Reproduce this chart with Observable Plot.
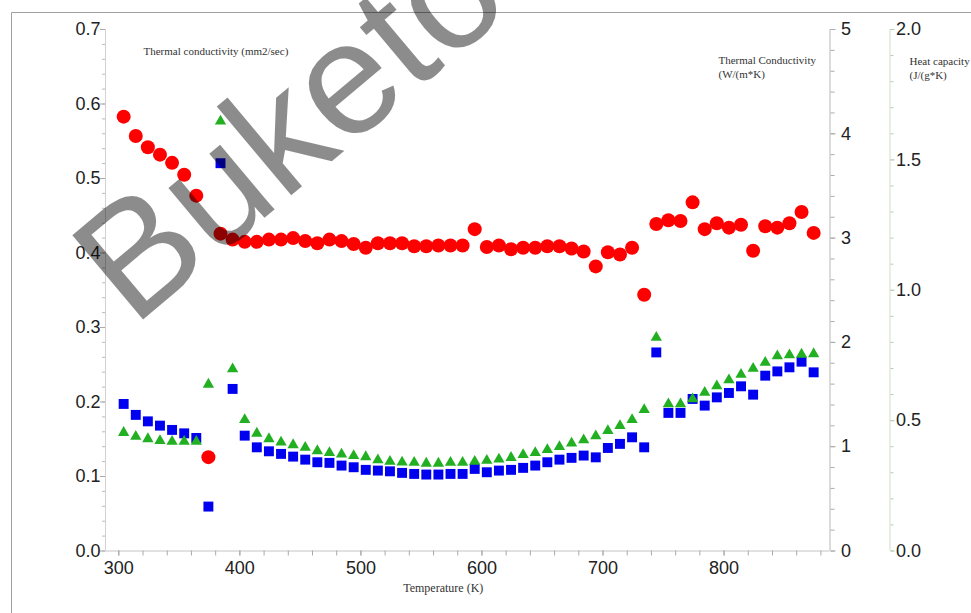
<!DOCTYPE html>
<html><head><meta charset="utf-8">
<script src="https://cdn.jsdelivr.net/npm/d3@7"></script>
<script src="https://cdn.jsdelivr.net/npm/@observablehq/plot@0.6"></script>
<style>html,body{margin:0;padding:0;background:#fff;} #chart{position:relative;width:971px;height:613px;overflow:hidden;}</style>
</head><body><div id="chart"></div>
<script>
// Temperature (K)
const temperature = [304,314,324,334,344,354,364,374,384,394,404,414,424,434,444,454,464,474,484,494,504,514,524,534,544,554,564,574,584,594,604,614,624,634,644,654,664,674,684,694,704,714,724,734,744,754,764,774,784,794,804,814,824,834,844,854,864,874];
// Thermal diffusivity, mm2/sec (left axis) - red circles
const diffusivity = [0.583,0.557,0.542,0.532,0.521,0.505,0.477,0.126,0.426,0.418,0.415,0.415,0.418,0.418,0.420,0.416,0.413,0.418,0.416,0.412,0.407,0.413,0.413,0.413,0.409,0.409,0.410,0.410,0.410,0.432,0.408,0.410,0.405,0.407,0.407,0.409,0.409,0.406,0.402,0.382,0.401,0.398,0.407,0.344,0.439,0.444,0.443,0.468,0.432,0.440,0.434,0.438,0.403,0.436,0.434,0.440,0.455,0.427];
// Thermal conductivity, W/(m*K) (first right axis) - blue squares
const conductivity = [1.41,1.305,1.243,1.202,1.161,1.128,1.084,0.426,3.718,1.554,1.106,0.994,0.956,0.931,0.905,0.876,0.851,0.845,0.819,0.803,0.778,0.771,0.764,0.749,0.739,0.733,0.733,0.739,0.739,0.787,0.755,0.771,0.778,0.797,0.819,0.851,0.876,0.893,0.915,0.898,0.988,1.027,1.09,0.994,1.904,1.324,1.324,1.458,1.394,1.473,1.515,1.579,1.499,1.681,1.722,1.761,1.815,1.713];
// Heat capacity, J/(g*K) (second right axis) - green triangles
const heatCapacity = [0.454,0.439,0.430,0.423,0.420,0.420,0.420,0.639,1.648,0.698,0.503,0.451,0.430,0.417,0.407,0.397,0.384,0.377,0.371,0.365,0.361,0.349,0.343,0.340,0.339,0.336,0.336,0.339,0.339,0.343,0.347,0.352,0.358,0.369,0.377,0.388,0.400,0.413,0.426,0.441,0.461,0.480,0.503,0.542,0.819,0.564,0.564,0.583,0.608,0.633,0.656,0.677,0.700,0.723,0.748,0.752,0.754,0.756];

const xTicks = [300,400,500,600,700,800];
const leftTicks = [0,0.1,0.2,0.3,0.4,0.5,0.6,0.7];
const condTicks = [0,1,2,3,4,5];
const cpTicks = [0,0.5,1.0,1.5,2.0];

const leftTitle = "Thermal conductivity (mm2/sec)";
const condTitle = ["Thermal Conductivity", "(W/(m*K)"];
const cpTitle = ["Heat capacity", "(J/(g*K)"];
const xTitle = "Temperature (K)";
const watermark = "Buketov";

const Y_MAX = 0.7, COND_MAX = 5, CP_MAX = 2;
const kCond = Y_MAX / COND_MAX, kCp = Y_MAX / CP_MAX;
const X_MIN = 289, X_MAX = 887.5;

const rows = temperature.map((t, i) => ({t, dif: diffusivity[i], cond: conductivity[i] * kCond, cp: heatCapacity[i] * kCp}));

const sans = "'Liberation Sans', Arial, sans-serif";
const serif = "'Liberation Serif', 'Times New Roman', serif";

const chart = Plot.plot({
  width: 971, height: 613,
  marginLeft: 105, marginRight: 141.5, marginTop: 29, marginBottom: 62.5,
  x: {domain: [X_MIN, X_MAX]},
  y: {domain: [0, Y_MAX]},
  style: {fontFamily: sans, fontSize: "18px", color: "#222", background: "#fff", overflow: "visible"},
  marks: [
    // axis lines
    Plot.ruleY([0], {stroke: "#c4c4c4"}),
    Plot.ruleX([X_MIN], {stroke: "#d8cfcf"}),
    Plot.ruleX([X_MAX], {stroke: "#b8b8b8"}),
    Plot.ruleX([X_MAX], {stroke: "#cde0c6", dx: 60}),
    // bottom axis
    Plot.axisX(d3.range(300, 881, 20), {tickSize: 5, tickFormat: () => "", stroke: "#aaa", label: null}),
    Plot.axisX(xTicks, {tickSize: 5, tickPadding: 5, tickFormat: d => String(d), stroke: "#aaa", fill: "#222", fontSize: 18, label: null}),
    // left axis
    Plot.axisY(d3.range(0, 35).map(i => i * 0.02).concat([0.7]), {anchor: "left", tickSize: 3, tickFormat: () => "", stroke: "#bbb", label: null}),
    Plot.axisY(leftTicks, {anchor: "left", tickSize: 5, tickPadding: 0, tickFormat: d3.format(".1f"), stroke: "#aaa", fill: "#222", fontSize: 18, label: null}),
    // conductivity axis (right)
    Plot.axisY(d3.range(0, 26).map(i => i * 0.2 * kCond), {anchor: "right", tickSize: 4, tickFormat: () => "", stroke: "#aaa", label: null}),
    Plot.axisY(condTicks.map(v => v * kCond), {anchor: "right", tickSize: 5, tickPadding: 6, tickFormat: d => String(Math.round(d / kCond)), stroke: "#aaa", fill: "#222", fontSize: 18, label: null}),
    // heat capacity axis (far right)
    Plot.axisY(d3.range(0, 21).map(i => i * 0.1 * kCp), {anchor: "right", dx: 60, tickSize: 3, tickFormat: () => "", stroke: "#b5cdb0", label: null}),
    Plot.axisY(cpTicks.map(v => v * kCp), {anchor: "right", dx: 60, tickSize: 4, tickPadding: 2, tickFormat: d => (d / kCp).toFixed(1), stroke: "#b5cdb0", fill: "#222", fontSize: 18, label: null}),
    // data
    Plot.dot(rows, {x: "t", y: "cond", symbol: "square", r: 5.6, fill: "#0000f0", stroke: "none"}),
    Plot.dot(rows, {x: "t", y: "cp", symbol: "triangle", r: 4.2, fill: "#22b022", stroke: "none"}),
    Plot.dot(rows, {x: "t", y: "dif", symbol: "circle", r: 7, fill: "#ff0000", stroke: "none"}),
    // titles
    Plot.text([leftTitle], {text: d => d, frameAnchor: "top-left", dx: 38, dy: 18, textAnchor: "start", fontFamily: serif, fontSize: 11, fill: "#333"}),
    Plot.text([condTitle[0]], {text: d => d, frameAnchor: "top-left", dx: 613, dy: 27, textAnchor: "start", fontFamily: serif, fontSize: 11, fill: "#333"}),
    Plot.text([condTitle[1]], {text: d => d, frameAnchor: "top-left", dx: 613, dy: 41, textAnchor: "start", fontFamily: serif, fontSize: 11, fill: "#333"}),
    Plot.text([cpTitle[0]], {text: d => d, frameAnchor: "top-left", dx: 804, dy: 28, textAnchor: "start", fontFamily: serif, fontSize: 11, fill: "#333"}),
    Plot.text([cpTitle[1]], {text: d => d, frameAnchor: "top-left", dx: 804, dy: 42, textAnchor: "start", fontFamily: serif, fontSize: 11, fill: "#333"}),
    Plot.text([xTitle], {text: d => d, frameAnchor: "bottom", dx: -24.5, dy: 41, fontFamily: serif, fontSize: 12, fill: "#333"})
  ]
});

const svg = d3.select(chart);
// outer frame of the figure
svg.append("path").attr("d", "M11.5,613V12.5H971").attr("stroke", "#a0a0a0").attr("fill", "none");
// watermark
svg.append("text").text(watermark)
  .attr("transform", "translate(133,328) rotate(-40)")
  .attr("font-family", sans).attr("font-size", 160)
  .attr("text-anchor", "start").attr("fill", "#000").attr("fill-opacity", 0.45);

document.getElementById("chart").appendChild(chart);
</script>
</body></html>
